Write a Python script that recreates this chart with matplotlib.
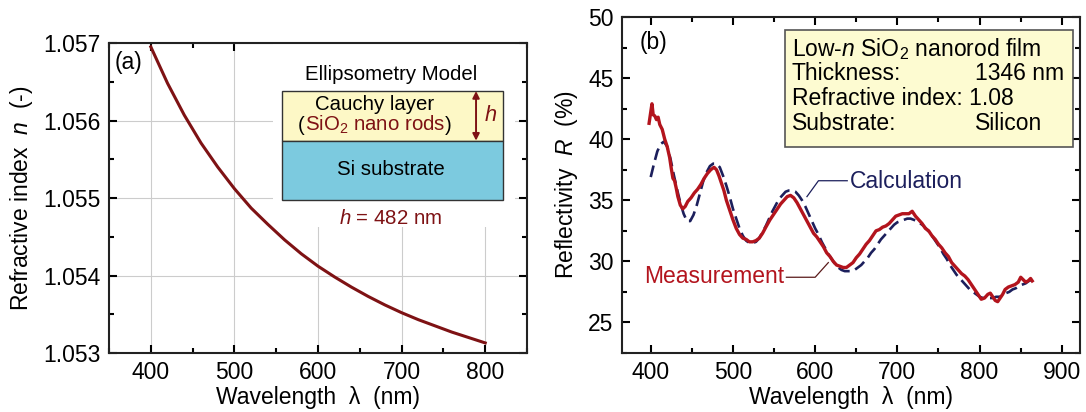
import matplotlib

matplotlib.use("Agg")

import matplotlib.pyplot as plt
from matplotlib.patches import Rectangle
from matplotlib.ticker import MultipleLocator

# (a) Cauchy dispersion
wl_a = [400, 420, 440, 460, 480, 500, 520, 540, 560, 580, 600,
        620, 640, 660, 680, 700, 720, 740, 760, 780, 800]
n_a = [1.05695, 1.05648, 1.05607, 1.05571, 1.05540, 1.05512, 1.05487,
       1.05466, 1.05446, 1.05428, 1.05412, 1.05398, 1.05385, 1.05373,
       1.05362, 1.05352, 1.05343, 1.05335, 1.05327, 1.05320, 1.05313]

# (b) measured reflectivity
wl_meas = [398, 400, 401.5, 403, 405, 407, 409, 411, 414, 417, 420, 423, 425, 427,
           429, 431, 433, 436, 439, 442, 445, 449, 453, 457, 461, 465, 469, 473,
           477, 480, 483, 486, 489, 492, 496, 500, 504, 508, 512, 516, 520, 524,
           528, 532, 536, 540, 545, 549, 553, 558, 562, 566, 570, 574, 578, 582,
           586, 590, 594, 598, 602, 606, 610, 614, 618, 622, 626, 630, 634, 638,
           642, 646, 650, 654, 658, 662, 666, 670, 674, 678, 682, 686, 690, 694,
           698, 702, 706, 710, 714, 718, 722, 726, 730, 734, 738, 742, 746, 750,
           754, 758, 762, 766, 770, 774, 778, 782, 786, 790, 794, 798, 802, 806,
           810, 813, 816, 819, 822, 825, 828, 831, 835, 839, 843, 847, 850, 853,
           856, 859, 862, 864]
r_meas = [41.3, 42.2, 42.9, 42.0, 41.9, 41.6, 41.8, 41.2, 40.8, 40.0, 39.4, 38.5,
          37.6, 36.8, 36.6, 36.0, 35.3, 34.6, 34.3, 34.5, 34.9, 35.2, 35.6, 35.9,
          36.3, 36.8, 37.2, 37.5, 37.7, 37.5, 37.0, 36.4, 35.8, 35.0, 34.2, 33.4,
          32.7, 32.2, 31.9, 31.8, 31.6, 31.6, 31.7, 31.9, 32.3, 32.8, 33.4, 33.8,
          34.2, 34.7, 35.0, 35.3, 35.4, 35.2, 34.8, 34.3, 33.8, 33.3, 32.8, 32.3,
          32.0, 31.6, 31.2, 30.7, 30.4, 30.0, 29.7, 29.6, 29.5, 29.5, 29.7, 29.9,
          30.3, 30.6, 31.0, 31.4, 31.7, 32.1, 32.5, 32.6, 32.8, 32.9, 33.1, 33.4,
          33.7, 33.8, 33.9, 33.9, 33.9, 34.1, 33.7, 33.4, 33.1, 32.7, 32.5, 32.1,
          31.8, 31.4, 31.1, 30.7, 30.4, 29.9, 29.6, 29.3, 29.0, 28.8, 28.5, 28.1,
          27.7, 27.3, 26.9, 27.0, 27.3, 27.4, 27.1, 26.8, 26.7, 27.0, 27.3, 27.7,
          27.9, 28.0, 28.1, 28.3, 28.7, 28.5, 28.3, 28.4, 28.6, 28.4]

# (b) calculated reflectivity
wl_calc = [400, 404, 408, 412, 416, 420, 424, 428, 432, 436, 440, 444, 448, 452,
           456, 460, 464, 468, 472, 476, 480, 484, 488, 492, 496, 500, 504, 508,
           512, 516, 520, 524, 528, 532, 536, 540, 544, 548, 552, 556, 560, 564,
           568, 572, 576, 580, 584, 588, 592, 596, 600, 604, 608, 612, 616, 620,
           624, 628, 632, 636, 640, 644, 648, 652, 656, 660, 664, 668, 672, 676,
           680, 684, 688, 692, 696, 700, 704, 708, 712, 716, 720, 724, 728, 732,
           736, 740, 744, 748, 752, 756, 760, 764, 768, 772, 776, 780, 784, 788,
           792, 796, 800, 804, 808, 812, 816, 820, 824, 828, 832, 836, 840, 844,
           848, 852, 856, 860, 864]
r_calc = [36.9, 38.0, 39.0, 39.6, 39.8, 39.4, 38.4, 37.1, 35.9, 34.8, 33.9, 33.3,
          33.3, 33.8, 34.6, 35.6, 36.6, 37.3, 37.8, 38.0, 38.0, 37.7, 37.0, 36.2,
          35.3, 34.3, 33.5, 32.7, 32.1, 31.7, 31.5, 31.5, 31.6, 31.9, 32.4, 32.9,
          33.5, 34.1, 34.6, 35.1, 35.4, 35.7, 35.8, 35.8, 35.7, 35.4, 35.0, 34.5,
          33.9, 33.3, 32.7, 32.2, 31.6, 31.1, 30.6, 30.2, 29.8, 29.5, 29.3, 29.2,
          29.2, 29.2, 29.3, 29.5, 29.7, 30.0, 30.3, 30.7, 31.0, 31.4, 31.8, 32.1,
          32.4, 32.7, 33.0, 33.2, 33.3, 33.4, 33.5, 33.5, 33.4, 33.3, 33.1, 32.9,
          32.6, 32.3, 31.9, 31.5, 31.1, 30.6, 30.2, 29.7, 29.3, 28.9, 28.6, 28.3,
          28.0, 27.7, 27.5, 27.3, 27.1, 27.0, 27.0, 27.0, 27.0, 27.1, 27.1, 27.2,
          27.4, 27.5, 27.7, 27.8, 28.0, 28.1, 28.2, 28.4, 28.5]

box_labels = ["Low-$n$ SiO$_2$ nanorod film", "Thickness:", "Refractive index: 1.08", "Substrate:"]
box_values = ["", "1346 nm", "", "Silicon"]

DARK_RED = "#7e1214"
MEAS_RED = "#b3141d"
NAVY = "#1c1f5c"
FS = 16.5      # ticks and axis labels
FS_IN = 14.7   # inset sketch in (a)
FS_B = 16.5    # text box and callouts in (b)

plt.rcParams["font.family"] = ["Liberation Sans", "DejaVu Sans"]
plt.rcParams["mathtext.fontset"] = "custom"
plt.rcParams["mathtext.rm"] = "Liberation Sans"
plt.rcParams["mathtext.it"] = "Liberation Sans:italic"
plt.rcParams["font.size"] = FS


def _style(ax: plt.Axes) -> None:
    for side in ax.spines.values():
        side.set_linewidth(1.5)
        side.set_color("#222222")
    ax.tick_params(which="both", direction="in", top=True, right=True, width=1.5,
                   labelsize=FS, pad=6)
    ax.tick_params(which="major", length=6)
    ax.tick_params(which="minor", length=3.5)


fig = plt.figure(figsize=(10.86, 4.12), dpi=100)
ax_a = fig.add_axes([0.1004, 0.1432, 0.3849, 0.7524])
ax_b = fig.add_axes([0.5727, 0.1432, 0.4217, 0.8155])

# ---- panel (a)
ax_a.set_xlim(350, 850)
ax_a.set_ylim(1.053, 1.057)
ax_a.xaxis.set_major_locator(MultipleLocator(100))
ax_a.xaxis.set_minor_locator(MultipleLocator(50))
ax_a.yaxis.set_major_locator(MultipleLocator(0.001))
ax_a.yaxis.set_minor_locator(MultipleLocator(0.0005))
ax_a.grid(True, which="major", color="#cccccc", linewidth=0.8)
ax_a.set_axisbelow(True)
_style(ax_a)
ax_a.plot(wl_a, n_a, color=DARK_RED, linewidth=2.2, zorder=3)
ax_a.set_xlabel("Wavelength  λ  (nm)", fontsize=FS, labelpad=1)
ax_a.set_ylabel("Refractive index  $n$  (-)", fontsize=FS, labelpad=6)
ax_a.text(357, 1.05675, "(a)", fontsize=FS, va="center", ha="left")

# inset model sketch, white backdrop hides the grid behind it
ax_a.add_patch(Rectangle((546, 1.05462), 290, 0.0024, facecolor="white", edgecolor="none", zorder=1.5))
ax_a.add_patch(Rectangle((557, 1.05574), 264, 0.00064, facecolor="#fdf8c6", edgecolor="#333333",
                         linewidth=1.0, zorder=2))
ax_a.add_patch(Rectangle((557, 1.05497), 264, 0.00077, facecolor="#7ccadf", edgecolor="#333333",
                         linewidth=1.0, zorder=2))
ax_a.text(687, 1.0566, "Ellipsometry Model", fontsize=FS_IN, ha="center", va="center", zorder=4)
ax_a.text(668, 1.05621, "Cauchy layer", fontsize=FS_IN, ha="center", va="center", zorder=4)
sio = ax_a.text(668, 1.05594, "SiO$_2$ nano rods", fontsize=FS_IN, color=DARK_RED,
                ha="center", va="center", zorder=4)
ax_a.text(687, 1.05537, "Si substrate", fontsize=FS_IN, ha="center", va="center", zorder=4)
ax_a.annotate("", xy=(789, 1.05638), xytext=(789, 1.05574), zorder=4,
              arrowprops=dict(arrowstyle="<|-|>", color=DARK_RED, lw=1.4,
                              mutation_scale=10, shrinkA=0, shrinkB=0))
ax_a.text(806, 1.05606, "$h$", fontsize=FS_IN + 1, color=DARK_RED, ha="center", va="center", zorder=4)
ax_a.text(687, 1.05474, "$h$ = 482 nm", fontsize=FS_IN, color=DARK_RED, ha="center", va="center", zorder=4)

# black brackets around the red SiO2 label
fig.canvas.draw()
bb = sio.get_window_extent().transformed(ax_a.transData.inverted())
ax_a.text(bb.x0, 1.05594, "(", fontsize=FS_IN, ha="right", va="center", zorder=4)
ax_a.text(bb.x1, 1.05594, ")", fontsize=FS_IN, ha="left", va="center", zorder=4)

# ---- panel (b)
ax_b.set_xlim(365, 922)
ax_b.set_ylim(22.5, 50)
ax_b.xaxis.set_major_locator(MultipleLocator(100))
ax_b.xaxis.set_minor_locator(MultipleLocator(50))
ax_b.yaxis.set_major_locator(MultipleLocator(5))
ax_b.yaxis.set_minor_locator(MultipleLocator(2.5))
_style(ax_b)
ax_b.plot(wl_calc, r_calc, color=NAVY, linewidth=1.9, dashes=(4.5, 2.2), zorder=3)
ax_b.plot(wl_meas, r_meas, color=MEAS_RED, linewidth=2.4, zorder=4)
ax_b.set_xlabel("Wavelength  λ  (nm)", fontsize=FS, labelpad=1)
ax_b.set_ylabel("Reflectivity  $R$  (%)", fontsize=FS, labelpad=6)
ax_b.text(387, 47.9, "(b)", fontsize=FS, va="center", ha="left")

ax_b.text(642, 36.55, "Calculation", fontsize=FS_B, color=NAVY, ha="left", va="center")
ax_b.plot([639, 604, 590], [36.6, 36.6, 35.3], color=NAVY, linewidth=0.9)
ax_b.text(563, 28.75, "Measurement", fontsize=FS_B, color=MEAS_RED, ha="right", va="center")
ax_b.plot([565, 600, 616], [28.7, 28.7, 29.9], color="#5a1a1a", linewidth=0.9)

ax_b.add_patch(Rectangle((0.356, 0.612), 0.629, 0.349, transform=ax_b.transAxes,
                         facecolor="#fdfbd1", edgecolor="#555555", linewidth=1.2, zorder=5))
for i, (lab, val) in enumerate(zip(box_labels, box_values)):
    y = 0.906 - i * 0.0745
    ax_b.text(0.371, y, lab, transform=ax_b.transAxes, fontsize=FS_B, ha="left", va="center", zorder=6)
    if val:
        ax_b.text(0.770, y, val, transform=ax_b.transAxes, fontsize=FS_B, ha="left", va="center", zorder=6)

fig.savefig("out.png", dpi=100)
